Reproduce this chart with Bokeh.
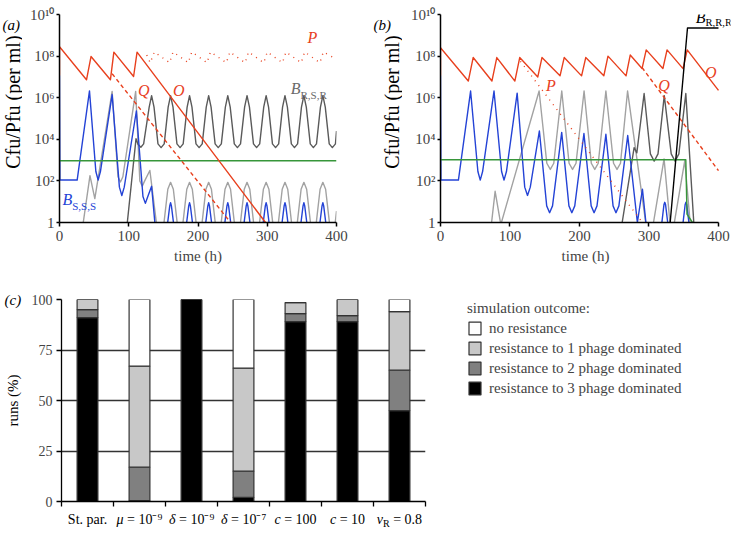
import math
from bokeh.plotting import figure
from bokeh.models import Range1d, FixedTicker, Label, Legend, LegendItem, ColumnDataSource
from bokeh.layouts import row, column
from bokeh.embed import file_html
from bokeh.resources import INLINE

FONT = "Liberation Serif"
RED = "#e8401e"
BLUE = "#2443d6"
GREEN = "#37963a"
LGREY = "#a2a2a2"
DGREY = "#5a5a5a"

# ---------------- axis ticks ----------------
time_ticks = [0, 100, 200, 300, 400]
decade_ticks = [0, 2, 4, 6, 8, 10]
decade_labels = ["1", "10²", "10⁴", "10⁶", "10⁸", "10¹⁰"]

# ---------------- panel (a): time (h) and log10(Cfu/Pfu per ml) ----------------
a_O_t = [0, 0, 39, 45.5, 73.5, 78.5, 107, 112, 297.5]
a_O_v = [7.07, 8.45, 6.86, 7.98, 6.86, 8.19, 7.02, 8.19, 0.0]
a_Q_t = [76, 247]
a_Q_v = [7.15, 0.0]
a_P_t = [126, 131, 137, 159, 164, 186, 191, 213, 218, 241, 246, 268, 273, 295, 300, 322, 327, 349, 354, 376, 381, 400]
a_P_v = [8.05, 7.68, 8.2, 7.68, 8.2, 7.68, 8.2, 7.68, 8.2, 7.68, 8.2, 7.68, 8.2, 7.68, 8.2, 7.68, 8.2, 7.68, 8.2, 7.68, 8.2, 7.85]
a_green_t = [0, 400]
a_green_v = [2.97, 2.97]
a_blue_t = [0, 0.6, 25.5, 43.3, 52.5, 55.8, 59.1, 76, 86.5, 90, 93.5, 111, 120.5, 124, 127, 133, 138.5,
            155.1, 159.2, 160.4, 161.6, 165.7,
            182.5, 186.6, 187.8, 189.0, 193.1,
            210.1, 214.2, 215.4, 216.6, 220.7,
            237.7, 241.8, 243.0, 244.2, 248.3,
            265.5, 269.6, 270.8, 272.0, 276.1,
            293.1, 297.2, 298.4, 299.6, 303.7,
            320.3, 324.4, 325.6, 326.8, 330.9,
            347.6, 351.7, 352.9, 354.1, 358.2,
            375.0, 379.1, 380.3, 381.5, 385.6]
a_blue_v = [7.07, 2.04, 2.04, 6.33, 2.45, 2.04, 2.45, 6.15, 1.7, 1.3, 1.7, 5.36, 1.25, 0.92, 1.2, 1.74, -0.3,
            -0.3, 0.8, 0.95, 0.8, -0.3,
            -0.3, 0.8, 0.95, 0.8, -0.3,
            -0.3, 0.8, 0.95, 0.8, -0.3,
            -0.3, 0.8, 0.95, 0.8, -0.3,
            -0.3, 0.8, 0.95, 0.8, -0.3,
            -0.3, 0.8, 0.95, 0.8, -0.3,
            -0.3, 0.8, 0.95, 0.8, -0.3,
            -0.3, 0.8, 0.95, 0.8, -0.3,
            -0.3, 0.8, 0.95, 0.8, -0.3]
a_lgrey_t = [33, 44, 51, 76, 84.5, 88, 91.5, 110, 116, 119.5, 123, 130.5, 141,
             149.9, 156.4, 160.4, 164.4, 170.9,
             177.3, 183.8, 187.8, 191.8, 198.3,
             204.9, 211.4, 215.4, 219.4, 225.9,
             232.5, 239.0, 243.0, 247.0, 253.5,
             260.3, 266.8, 270.8, 274.8, 281.3,
             287.9, 294.4, 298.4, 302.4, 308.9,
             315.1, 321.6, 325.6, 329.6, 336.1,
             342.4, 348.9, 352.9, 356.9, 363.4,
             369.8, 376.3, 380.3, 384.3, 390.8,
             397.2, 400]
a_lgrey_v = [-0.3, 2.25, 1.15, 6.3, 2.2, 1.95, 2.2, 6.3, 2.0, 1.75, 2.0, 2.5, -0.3,
             -0.3, 1.6, 1.93, 1.6, -0.3,
             -0.3, 1.6, 1.93, 1.6, -0.3,
             -0.3, 1.6, 1.93, 1.6, -0.3,
             -0.3, 1.6, 1.93, 1.6, -0.3,
             -0.3, 1.6, 1.93, 1.6, -0.3,
             -0.3, 1.6, 1.93, 1.6, -0.3,
             -0.3, 1.6, 1.93, 1.6, -0.3,
             -0.3, 1.6, 1.93, 1.6, -0.3,
             -0.3, 1.6, 1.93, 1.6, -0.3,
             -0.3, 0.55]
a_dgrey_t = [97, 110.5, 113.5, 117.5, 121.5,
             129.5, 133.0, 136.5, 142.2, 146.7, 151.2,
             156.9, 160.4, 163.9, 169.6, 174.1, 178.6,
             184.3, 187.8, 191.3, 197.1, 201.6, 206.1,
             211.9, 215.4, 218.9, 224.7, 229.2, 233.7,
             239.5, 243.0, 246.5, 252.4, 256.9, 261.4,
             267.3, 270.8, 274.3, 280.1, 284.6, 289.1,
             294.9, 298.4, 301.9, 307.5, 312.0, 316.5,
             322.1, 325.6, 329.1, 334.8, 339.3, 343.8,
             349.4, 352.9, 356.4, 362.1, 366.6, 371.1,
             376.8, 380.3, 383.8, 389.5, 394.0, 398.5, 400]
a_dgrey_v = [-0.3, 4.03, 3.75, 3.62, 3.78,
             5.55, 6.1, 5.55, 3.78, 3.6, 3.78,
             5.55, 6.1, 5.55, 3.78, 3.6, 3.78,
             5.55, 6.1, 5.55, 3.78, 3.6, 3.78,
             5.55, 6.1, 5.55, 3.78, 3.6, 3.78,
             5.55, 6.1, 5.55, 3.78, 3.6, 3.78,
             5.55, 6.1, 5.55, 3.78, 3.6, 3.78,
             5.55, 6.1, 5.55, 3.78, 3.6, 3.78,
             5.55, 6.1, 5.55, 3.78, 3.6, 3.78,
             5.55, 6.1, 5.55, 3.78, 3.6, 3.78,
             5.55, 6.1, 5.55, 3.78, 3.6, 3.78, 4.4]

# ---------------- panel (b) ----------------
b_O_t = [0, 0, 40, 47, 74, 81, 107, 114, 140, 146, 172, 178, 203, 209, 235, 241, 267, 273, 290, 296, 320, 326, 349, 355, 400]
b_O_v = [7.07, 8.4, 6.8, 7.93, 6.8, 7.93, 6.8, 7.93, 7.0, 7.93, 7.05, 7.93, 7.05, 7.93, 7.05, 8.0, 7.05, 8.05, 7.4, 8.3, 7.4, 8.3, 7.4, 8.3, 6.35]
b_Q_t = [290, 400]
b_Q_v = [7.45, 2.49]
b_P_t = [115, 290.5]
b_P_v = [7.75, 0.0]
b_green_t = [0, 353, 354.7, 362.6]
b_green_v = [3.02, 3.02, 0.4, 0.0]
b_black_t = [330.5, 355.4, 400]
b_black_v = [0.0, 9.35, 9.35]
b_blue_t = [0, 0.6, 25.8, 43.3, 53.8, 57.2, 60.6, 77, 87.9, 91.4, 94.9, 110.3, 121.2, 125.2, 129.2,
            142.3, 152.8, 157, 161.2, 174.4, 184.8, 189, 193.2, 206.4, 216.8, 221, 225.2,
            238, 248.3, 252.5, 256.7, 269.4, 283.3, 290.6, 296.5,
            317.5, 321.5, 322.7, 323.9, 328,
            348, 352, 353.2, 354.4, 358.5]
b_blue_v = [7.07, 2.04, 2.04, 6.32, 2.45, 2.04, 2.45, 6.32, 2.45, 2.04, 2.45, 6.22, 1.7, 1.3, 1.7,
            4.4, 0.8, 0.47, 0.8, 4.33, 0.8, 0.47, 0.8, 4.28, 0.8, 0.47, 0.8,
            4.24, 0.8, 0.47, 0.8, 4.18, 0.0, 1.6, -0.3,
            -0.3, 0.85, 0.97, 0.85, -0.3,
            -0.3, 0.85, 0.97, 0.85, -0.3]
b_lgrey_t = [72.5, 78.6, 86.8, 141.9, 153, 158, 163, 174.5, 185, 190, 195, 206.6, 217, 222, 227,
             238, 249, 254, 259, 269.2, 296.5, 305, 321.7, 331, 335, 351.5, 360]
b_lgrey_v = [-0.3, 1.5, -0.1, 6.32, 2.85, 2.55, 2.85, 6.32, 2.85, 2.55, 2.85, 6.32, 2.85, 2.55, 2.85,
             6.32, 2.85, 2.55, 2.85, 6.32, -0.3, -0.3, 3.06, -0.3, -0.3, 2.98, -0.3]
b_dgrey_t = [260, 278.6, 282.5, 293, 302, 307.5, 313, 322, 332, 337.5, 343, 353, 365]
b_dgrey_v = [-0.3, 3.6, 3.35, 6.2, 3.3, 2.95, 3.3, 6.1, 3.3, 2.95, 3.3, 6.2, -0.3]

# ---------------- panel (c): runs (%) ----------------
categories = ["St. par.", "μ = 10⁻⁹", "δ = 10⁻⁹", "δ = 10⁻⁷", "c = 100", "c = 10", "vR = 0.8"]
res3 = [91, 0.5, 100, 2, 89, 89, 45]
res2 = [4, 16.5, 0, 13, 4, 3, 20]
res1 = [5, 50, 0, 51, 5.5, 8, 29]
nores = [0, 33, 0, 34, 0, 0, 6]
outcome_labels = ["no resistance", "resistance to 1 phage dominated",
                  "resistance to 2 phage dominated", "resistance to 3 phage dominated"]
outcome_colors = ["#ffffff", "#c8c8c8", "#808080", "#000000"]
pct_ticks = [0, 25, 50, 75, 100]


def lab(p, x, y, text, size=15, color="black", style="normal", align="left",
        baseline="middle", angle=0.0, xo=0):
    p.add_layout(Label(x=x, y=y, text=text, text_font=FONT, text_font_size=f"{size}px",
                       text_color=color, text_font_style=style, text_align=align,
                       text_baseline=baseline, angle=angle, x_offset=xo))


def strip(width, height):
    s = figure(width=width, height=height, x_range=Range1d(0, width), y_range=Range1d(0, height),
               output_backend="svg", toolbar_location=None, min_border=0,
               x_axis_location=None, y_axis_location=None)
    s.outline_line_color = None
    s.grid.visible = False
    return s


def ts_figure(width, left, right, xend=400):
    p = figure(width=width, height=273, x_range=Range1d(0, xend), y_range=Range1d(0, 10),
               output_backend="svg", toolbar_location=None,
               min_border_left=left, min_border_right=right, min_border_top=14, min_border_bottom=51)
    p.outline_line_color = None
    p.grid.visible = False
    p.xaxis.ticker = FixedTicker(ticks=time_ticks)
    p.xaxis.bounds = (0, 400)
    p.yaxis.ticker = FixedTicker(ticks=decade_ticks)
    p.yaxis.major_label_overrides = dict(zip(decade_ticks, decade_labels))
    for ax in (p.xaxis[0], p.yaxis[0]):
        ax.axis_line_color = "black"
        ax.axis_line_width = 1.5
        ax.major_tick_line_color = "black"
        ax.major_tick_line_width = 1.5
        ax.major_tick_in = 0
        ax.major_tick_out = 4
        ax.minor_tick_line_color = None
        ax.major_label_text_font = FONT
        ax.major_label_text_font_size = "15px"
        ax.major_label_standoff = 4
    p.yaxis.major_tick_out = 3
    p.yaxis.major_label_standoff = 2
    p.xaxis.axis_label = "time (h)"
    p.xaxis.axis_label_text_font = FONT
    p.xaxis.axis_label_text_font_size = "15px"
    p.xaxis.axis_label_text_font_style = "normal"
    p.xaxis.axis_label_standoff = 4
    return p


def ln(p, t, v, color, dash="solid", width=1.4):
    p.line(t, v, line_color=color, line_width=width, line_dash=dash, line_join="round")


# ---------- (a) ----------
sa = strip(22, 273)
lab(sa, 2, 259, "(a)", size=15, style="italic")
lab(sa, 12, 158, "Cfu/Pfu (per ml)", size=20, align="center", angle=math.pi / 2)

pa = ts_figure(348, 37, 34)
ln(pa, a_lgrey_t, a_lgrey_v, LGREY)
ln(pa, a_dgrey_t, a_dgrey_v, DGREY)
ln(pa, a_blue_t, a_blue_v, BLUE)
ln(pa, a_green_t, a_green_v, GREEN)
ln(pa, a_O_t, a_O_v, RED)
ln(pa, a_Q_t, a_Q_v, RED, dash="4 3")
ln(pa, a_P_t, a_P_v, RED, dash="1 5")
lab(pa, 365, 8.88, "P", size=16, color=RED, style="italic", align="center")
lab(pa, 121.7, 6.37, "Q", size=16, color=RED, style="italic", align="center")
lab(pa, 172.3, 6.37, "O", size=16, color=RED, style="italic", align="center")
lab(pa, 347.9, 6.44, "B", size=16, color="#6a6a6a", style="italic", align="right")
lab(pa, 347.9, 6.12, "R,S,R", size=11, color="#6a6a6a", align="left")
lab(pa, 18.3, 1.09, "B", size=16, color=BLUE, style="italic", align="right")
lab(pa, 18.3, 0.80, "S,S,S", size=11, color=BLUE, align="left")

# ---------- (b) ----------
sb = strip(32, 273)
lab(sb, 3, 259, "(b)", size=15, style="italic")
lab(sb, 21.5, 158, "Cfu/Pfu (per ml)", size=20, align="center", angle=math.pi / 2)

pb = ts_figure(330, 38, 2, xend=417.3)
ln(pb, b_lgrey_t, b_lgrey_v, LGREY)
ln(pb, b_dgrey_t, b_dgrey_v, DGREY)
ln(pb, b_blue_t, b_blue_v, BLUE)
ln(pb, b_green_t, b_green_v, GREEN)
ln(pb, b_O_t, b_O_v, RED)
ln(pb, b_Q_t, b_Q_v, RED, dash="4 3")
ln(pb, b_P_t, b_P_v, RED, dash="1 5")
ln(pb, b_black_t, b_black_v, "black")
lab(pb, 158.7, 6.59, "P", size=16, color=RED, style="italic", align="center")
lab(pb, 321.7, 6.59, "Q", size=16, color=RED, style="italic", align="center")
lab(pb, 388.9, 7.23, "O", size=16, color=RED, style="italic", align="center")
lab(pb, 381.5, 9.87, "B", size=16, color="black", style="italic", align="right")
lab(pb, 381.5, 9.60, "R,R,R", size=10.5, color="black", align="left")

# ---------- (c) ----------
sc = strip(28, 262)
lab(sc, 4, 236, "(c)", size=15, style="italic")
lab(sc, 12, 135, "runs (%)", size=15, align="center", angle=math.pi / 2)

pc = figure(width=407, height=235, x_range=Range1d(0, len(categories)), y_range=Range1d(0, 100),
            output_backend="svg", toolbar_location=None,
            min_border_left=30, min_border_right=10, min_border_top=26, min_border_bottom=7)
pc.outline_line_color = None
pc.xgrid.visible = False
pc.ygrid.ticker = FixedTicker(ticks=pct_ticks[1:])
pc.ygrid.grid_line_color = "#333333"
pc.ygrid.grid_line_width = 1.4
src = ColumnDataSource(dict(x=[i + 0.5 for i in range(len(categories))],
                            res3=res3, res2=res2, res1=res1, nores=nores))
pc.vbar_stack(["res3", "res2", "res1", "nores"], x="x", width=0.4, source=src,
              fill_color=outcome_colors[::-1], line_color="#333333", line_width=1.2)
pc.yaxis.ticker = FixedTicker(ticks=pct_ticks)
pc.xaxis.ticker = FixedTicker(ticks=list(range(len(categories) + 1)))
pc.xaxis.major_label_overrides = {i: "" for i in range(len(categories) + 1)}
for ax in (pc.xaxis[0], pc.yaxis[0]):
    ax.axis_line_color = "black"
    ax.axis_line_width = 1.3
    ax.major_tick_line_color = "black"
    ax.major_tick_line_width = 1.3
    ax.major_tick_in = 0
    ax.major_tick_out = 5
    ax.minor_tick_line_color = None
    ax.major_label_text_font = FONT
    ax.major_label_text_font_size = "14px"
    ax.major_label_standoff = 4
pc.xaxis.major_label_text_font_size = "1px"
pc.xaxis.major_label_standoff = 0

# category labels strip aligned with the (c) frame
cs = figure(width=407, height=27, x_range=pc.x_range, y_range=Range1d(0, 27),
            output_backend="svg", toolbar_location=None,
            min_border_left=30, min_border_right=10, min_border_top=0, min_border_bottom=0,
            x_axis_location=None, y_axis_location=None)
cs.outline_line_color = None
cs.grid.visible = False
ly = 16
lab(cs, 0.5, ly, "St. par.", size=14, align="center")
lab(cs, 1.5, ly, "μ", size=14, style="italic", align="right", xo=-16)
lab(cs, 1.5, ly, "= 10⁻⁹", size=14, align="left", xo=-12.5)
lab(cs, 2.5, ly, "δ", size=14, style="italic", align="right", xo=-16)
lab(cs, 2.5, ly, "= 10⁻⁹", size=14, align="left", xo=-12.5)
lab(cs, 3.5, ly, "δ", size=14, style="italic", align="right", xo=-16)
lab(cs, 3.5, ly, "= 10⁻⁷", size=14, align="left", xo=-12.5)
lab(cs, 4.5, ly, "c", size=14, style="italic", align="right", xo=-14.8)
lab(cs, 4.5, ly, "= 100", size=14, align="left", xo=-11.3)
lab(cs, 5.5, ly, "c", size=14, style="italic", align="right", xo=-11.3)
lab(cs, 5.5, ly, "= 10", size=14, align="left", xo=-7.8)
lab(cs, 6.5, ly, "v", size=14, style="italic", align="right", xo=-16.5)
lab(cs, 6.5, ly - 4, "R", size=10, align="left", xo=-16.5)
lab(cs, 6.5, ly, "= 0.8", size=14, align="left", xo=-6.3)

# ---------- legend panel ----------
lf = figure(width=297, height=262, x_range=Range1d(0, 1), y_range=Range1d(0, 1),
            output_backend="svg", toolbar_location=None, min_border=0,
            x_axis_location=None, y_axis_location=None)
lf.outline_line_color = None
lf.grid.visible = False
items = []
for name, col in zip(outcome_labels, outcome_colors):
    r = lf.vbar(x=[float("nan")], top=[float("nan")], width=0.1, fill_color=col,
                line_color="#333333", line_width=1.2)
    items.append(LegendItem(label=name, renderers=[r]))
leg = Legend(items=items, location=(32, 138.5), title="simulation outcome:",
             title_text_font=FONT, title_text_font_size="15px", title_text_font_style="normal",
             title_standoff=3, label_text_font=FONT, label_text_font_size="15px",
             glyph_width=15, glyph_height=16, label_height=16, label_standoff=7, spacing=3,
             padding=0, margin=0, border_line_color=None, background_fill_alpha=0)
lf.add_layout(leg)

layout = column(row(sa, pa, sb, pb), row(sc, column(pc, cs), lf))
open("out.html", "w").write(file_html(layout, INLINE))
